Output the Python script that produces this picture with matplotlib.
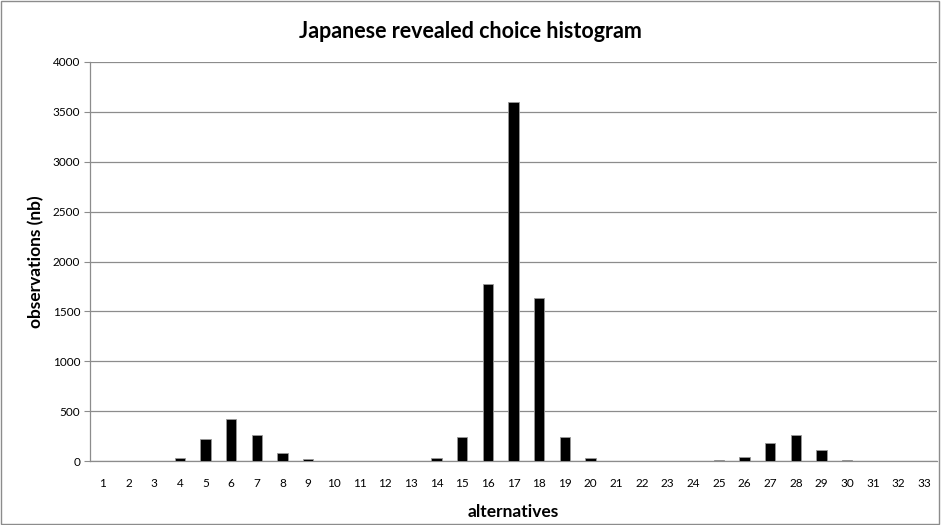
import matplotlib.pyplot as plt
from matplotlib.patches import Rectangle

# data
alternatives = list(range(1, 34))
observations = [0, 3, 3, 30, 220, 425, 260, 85, 25, 2,
                0, 0, 3, 30, 240, 1770, 3600, 1630, 245, 30,
                5, 3, 0, 0, 15, 45, 185, 265, 110, 15,
                3, 5, 0]
y_ticks = [0, 500, 1000, 1500, 2000, 2500, 3000, 3500, 4000]

plt.rcParams['font.family'] = ['Lato', 'DejaVu Sans']

fig = plt.figure(figsize=(9.41, 5.25), dpi=100)
ax = fig.add_axes([90 / 941, 1 - 461 / 525, 847 / 941, 399 / 525])

ax.bar(alternatives, observations, width=0.4, color='black',
       edgecolor='#999999', linewidth=0.6, zorder=3)

ax.set_xlim(0.5, 33.5)
ax.set_ylim(0, 4000)
ax.set_yticks(y_ticks)
ax.set_xticks(alternatives)
ax.set_xticklabels([str(a) for a in alternatives])
ax.grid(axis='y', color='#8c8c8c', linewidth=0.9, zorder=0)

for side in ['top', 'right']:
    ax.spines[side].set_visible(False)
for side in ['left', 'bottom']:
    ax.spines[side].set_color('#8c8c8c')
    ax.spines[side].set_linewidth(0.9)

ax.tick_params(axis='y', labelsize=8.5, length=4, color='#8c8c8c', pad=3)
ax.tick_params(axis='x', labelsize=8.5, length=0, pad=12)

ax.set_ylabel('observations (nb)', fontsize=12.5, fontweight='bold', labelpad=6)
ax.set_xlabel('alternatives', fontsize=12.5, fontweight='bold', labelpad=11)
fig.text(0.5, 1 - 32 / 525, 'Japanese revealed choice histogram', ha='center',
         va='center', fontsize=15.5, fontweight='bold')

# outer border of the chart area
fig.patches.append(Rectangle((0.001, 0.001), 0.997, 0.997, transform=fig.transFigure,
                             fill=False, edgecolor='#8c8c8c', linewidth=1))

plt.savefig('out.png', dpi=100)
